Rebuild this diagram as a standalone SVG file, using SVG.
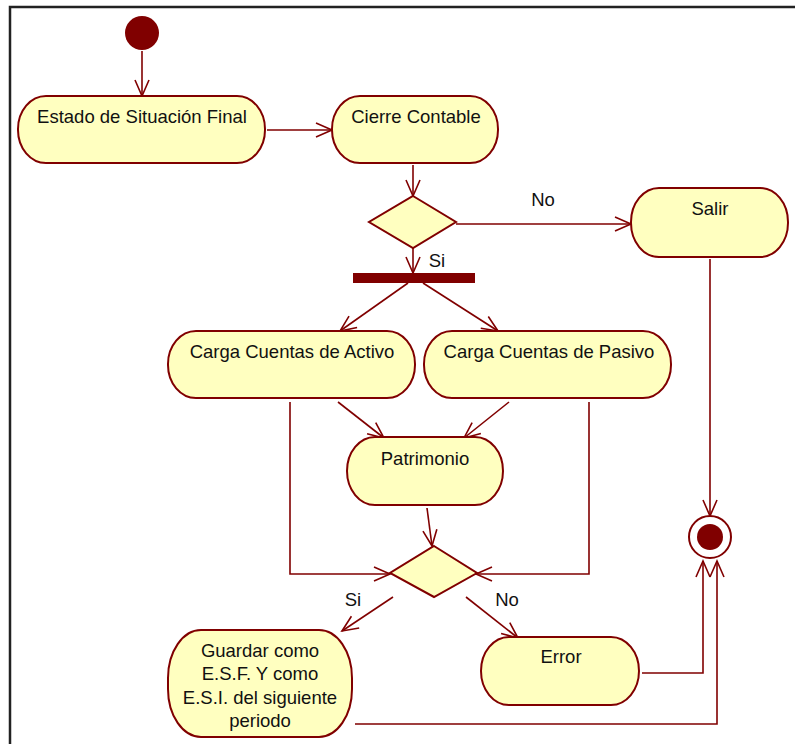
<svg xmlns="http://www.w3.org/2000/svg" width="795" height="744" viewBox="0 0 795 744">
<style>
.act{fill:#FFFFC0;stroke:#800000;stroke-width:2}
.dec{fill:#FFFFC0;stroke:#800000;stroke-width:2}
.t{font-family:"Liberation Sans",Arial,sans-serif;font-size:18.5px;fill:#111;text-anchor:middle}
.c{fill:none;stroke:#800000;stroke-width:1.6;marker-end:url(#ah)}
</style>
<defs>
<marker id="ah" markerUnits="userSpaceOnUse" markerWidth="20" markerHeight="20" viewBox="-18 -10 20 20" refX="0" refY="0" orient="auto" overflow="visible">
<path d="M-16,-7 L0,0 L-16,7" fill="none" stroke="#800000" stroke-width="1.6"/>
</marker>
</defs>
<rect width="795" height="744" fill="#fff"/>
<path d="M10,744 V7 H795" fill="none" stroke="#222" stroke-width="2.5"/>

<g id="connectors">
<path class="c" d="M142,51 V96"/>
<path class="c" d="M267,130 H332"/>
<path class="c" d="M413,165 V196"/>
<path class="c" d="M456,224 H631"/>
<path class="c" d="M413,248 V273"/>
<path class="c" d="M408,283 L340,331"/>
<path class="c" d="M423,283 L498,331"/>
<path class="c" d="M338,402 L384,438"/>
<path class="c" d="M509,402 L464,438"/>
<path class="c" d="M290,402 V574 H390"/>
<path class="c" d="M589,402 V574 H476"/>
<path class="c" d="M427,508 L432,546"/>
<path class="c" d="M393,597 L342,631"/>
<path class="c" d="M466,597 L518,638"/>
<path class="c" d="M710,259 V516"/>
<path class="c" d="M642,673 H703 V561"/>
<path class="c" d="M355,724 H717 V561"/>
<text class="t" x="543" y="206">No</text>
<text class="t" x="437" y="267">Si</text>
<text class="t" x="353" y="606">Si</text>
<text class="t" x="507" y="606">No</text>
</g>

<g id="start"><circle cx="142" cy="33" r="17" fill="#800000"/></g>

<g id="estado">
<rect class="act" x="18" y="96" width="247" height="67" rx="28" ry="33"/>
<text class="t" x="142" y="123">Estado de Situación Final</text>
</g>

<g id="cierre">
<rect class="act" x="332" y="96" width="166" height="67" rx="28" ry="33"/>
<text class="t" x="416" y="123">Cierre Contable</text>
</g>

<g id="decision1"><path class="dec" d="M413,196 L456,222 L413,248 L369,222 Z"/></g>

<g id="salir">
<rect class="act" x="631" y="188" width="157" height="69" rx="28" ry="34"/>
<text class="t" x="710" y="215">Salir</text>
</g>

<g id="fork"><rect x="353" y="273" width="122" height="10" fill="#800000"/></g>

<g id="activo">
<rect class="act" x="168" y="331" width="247" height="67" rx="28" ry="33"/>
<text class="t" x="292" y="358">Carga Cuentas de Activo</text>
</g>

<g id="pasivo">
<rect class="act" x="424" y="331" width="247" height="67" rx="28" ry="33"/>
<text class="t" x="549" y="358">Carga Cuentas de Pasivo</text>
</g>

<g id="patrimonio">
<rect class="act" x="347" y="437" width="156" height="68" rx="28" ry="34"/>
<text class="t" x="425" y="465">Patrimonio</text>
</g>

<g id="decision2"><path class="dec" d="M434,546 L477,573 L434,597 L390,573 Z"/></g>

<g id="guardar">
<rect class="act" x="168" y="630" width="184" height="107" rx="33" ry="48"/>
<text class="t" x="260" y="657">Guardar como</text>
<text class="t" x="260" y="680">E.S.F. Y como</text>
<text class="t" x="260" y="704">E.S.I. del siguiente</text>
<text class="t" x="260" y="727">periodo</text>
</g>

<g id="error">
<rect class="act" x="481" y="637" width="158" height="68" rx="28" ry="34"/>
<text class="t" x="561" y="663">Error</text>
</g>

<g id="final">
<circle cx="710" cy="537" r="21" fill="#fff" stroke="#800000" stroke-width="2"/>
<circle cx="710" cy="537" r="13" fill="#800000"/>
</g>
</svg>
